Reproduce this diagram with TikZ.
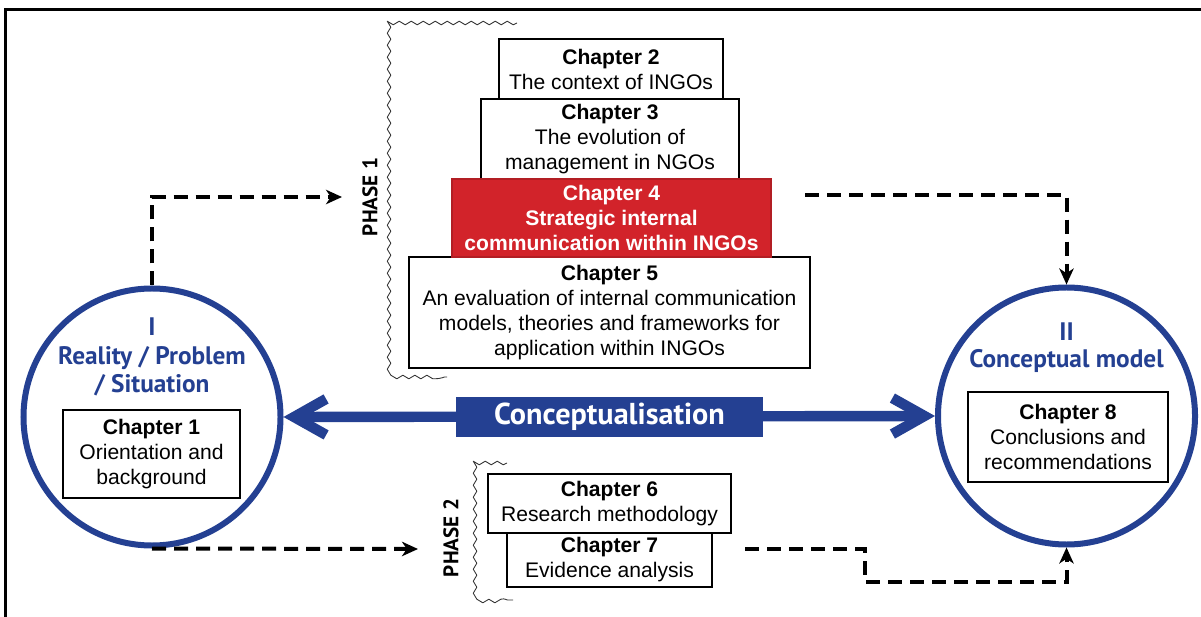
\documentclass[tikz,border=0pt]{standalone}
\usepackage{fontspec}
\setmainfont{Liberation Sans}
\newfontfamily\headfont{PT Sans}
\usetikzlibrary{arrows.meta,decorations.pathmorphing}

\definecolor{headblue}{RGB}{36,64,146}
\definecolor{chapred}{RGB}{210,35,42}

\tikzset{
  chapbox/.style={draw, line width=0.5mm, fill=white, align=center, inner sep=0pt,
    font=\fontsize{15}{17.8}\selectfont},
  bigcircle/.style={circle, draw=headblue, line width=1.5mm, fill=white,
    minimum size=64.25mm, inner sep=0pt},
  heading/.style={text=headblue, align=center,
    font=\headfont\bfseries\fontsize{18}{20.3}\selectfont},
  phase/.style={rotate=90, font=\headfont\bfseries\fontsize{15}{17}\selectfont},
  dasharrow/.style={line width=1mm, dash pattern=on 3.5mm off 2mm,
    -{Stealth[length=4mm, width=3.6mm, inset=1.2mm]}},
  wavy/.style={line width=0.22mm, black!80, line join=round,
    decorate, decoration={snake, amplitude=0.45mm, segment length=3mm}},
}

\begin{document}
\begin{tikzpicture}[x=0.25mm, y=-0.25mm]
  \useasboundingbox (0,0) rectangle (1201,617);

  % 枠
  \draw[line width=0.75mm] (5.5,617) -- (5.5,10) -- (1201,10);

  % 左の円
  \node[bigcircle] (lc) at (152,417) {};
  \node[heading] (lctitle) at (152,357) {I\\Reality / Problem\\/ Situation};
  \node[chapbox, minimum width=44.25mm, minimum height=21.75mm] (ch1) at (151.5,454)
    {\textbf{Chapter 1}\\Orientation and\\background};

  % 右の円
  \node[bigcircle] (rc) at (1066.5,416) {};
  \node[heading, font=\headfont\bfseries\fontsize{18}{19.2}\selectfont] (rctitle) at (1066.5,348)
    {II\\Conceptual model};
  \node[chapbox, minimum width=50mm, minimum height=22.5mm] (ch8) at (1068,437)
    {\textbf{Chapter 8}\\Conclusions and\\recommendations};

  % フェーズ1
  \draw[wavy] (517,23) -| (393,377) -- (447,377);
  \node[phase] (ph1) at (370,197) {PHASE 1};
  \node[chapbox, minimum width=56mm, minimum height=15mm] (ch2) at (611,69)
    {\textbf{Chapter 2}\\The context of INGOs};
  \node[chapbox, minimum width=64.5mm, minimum height=20mm] (ch3) at (610,139)
    {\textbf{Chapter 3}\\The evolution of\\management in NGOs};
  \node[chapbox, minimum width=100.25mm, minimum height=27.75mm] (ch5) at (609.5,312.5)
    {\textbf{Chapter 5}\\An evaluation of internal communication\\models, theories and frameworks for\\application within INGOs};
  \node[chapbox, fill=chapred, draw=chapred!85!black, text=white, font=\bfseries\fontsize{15}{17.8}\selectfont,
    minimum width=79.75mm, minimum height=19.5mm] (ch4) at (611.5,218)
    {Chapter 4\\Strategic internal\\communication within INGOs};

  % フェーズ2
  \draw[wavy] (507,463) -| (476,600) -- (513,600);
  \node[phase] (ph2) at (451,538) {PHASE 2};
  \node[chapbox, minimum width=60.75mm, minimum height=14.75mm] (ch6) at (609.5,503.5)
    {\textbf{Chapter 6}\\Research methodology};
  \node[chapbox, minimum width=51.25mm, minimum height=13.5mm] (ch7) at (609.5,560)
    {\textbf{Chapter 7}\\Evidence analysis};

  % 概念化
  \draw[headblue, line width=2.6mm,
    {Straight Barb[length=8mm, width=9mm]}-{Straight Barb[length=8mm, width=9mm]}]
    (lc.east) -- (rc.west);
  \node[fill=headblue, text=white, minimum width=76.75mm, minimum height=10mm, inner sep=0pt,
    font=\headfont\bfseries\fontsize{21.5}{24}\selectfont] (concept) at (609.5,417) {Conceptualisation};

  % 点線の矢印
  \coordinate (p1) at (342,197);
  \coordinate (p2) at (418,549);
  \coordinate (q1) at (805,195);
  \coordinate (q2) at (745,549);
  \draw[dasharrow] (lc.north) |- (p1);
  \draw[dasharrow] (lc.south) -- (p2);
  \draw[dasharrow] (q1) -| (rc.north);
  \draw[dasharrow] (q2) -| (865,582) -| (rc.south);
\end{tikzpicture}
\end{document}
